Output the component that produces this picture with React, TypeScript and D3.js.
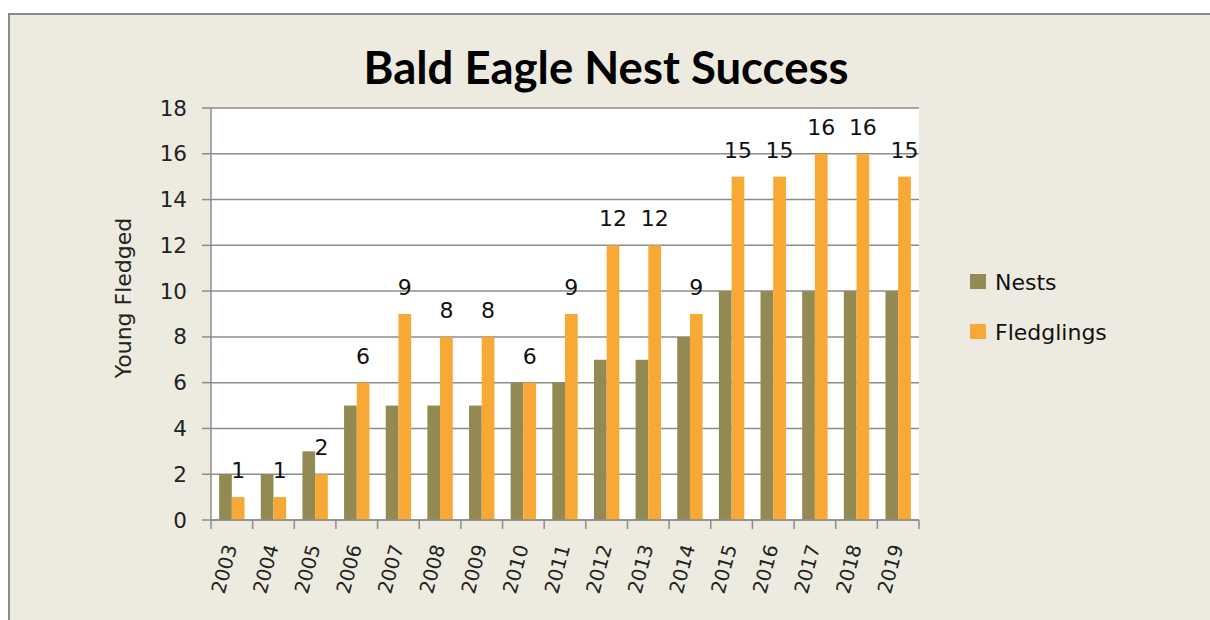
import React from "react";
import * as d3 from "d3";

const years = ["2003","2004","2005","2006","2007","2008","2009","2010","2011","2012","2013","2014","2015","2016","2017","2018","2019"];
const nests = [2,2,3,5,5,5,5,6,6,7,7,8,10,10,10,10,10];
const fledglings = [1,1,2,6,9,8,8,6,9,12,12,9,15,15,16,16,15];
const yTicks = [0,2,4,6,8,10,12,14,16,18];
const seriesNames = ["Nests","Fledglings"];
const colors = ["#938a53","#f8a834"];

const W = 1210, H = 620;
const plot = { left: 211, right: 919, top: 108, bottom: 520 };
const font = "'DejaVu Sans', Verdana, sans-serif";

export default function App() {
  const x = d3.scaleBand<string>().domain(years).range([plot.left, plot.right]).padding(0);
  const y = d3.scaleLinear().domain([0, 18]).range([plot.bottom, plot.top]);
  const bw = 12.7;
  const inner = d3.scaleBand<string>().domain(seriesNames).range([0, bw * 2]);
  const off = (x.bandwidth() - bw * 2) / 2;
  const boundaries = years.map((yr) => x(yr)!).concat([plot.right]);

  return (
    <svg width={W} height={H} style={{ position: "absolute", left: 0, top: 0 }}>
      <rect x={0} y={0} width={W} height={H} fill="#ffffff" />
      <rect x={9} y={14} width={W + 10} height={H + 10} fill="#edebe0" stroke="#8a8a8a" strokeWidth={2} />
      <text x={606} y={84} textAnchor="middle" fontFamily="Lato, 'Open Sans', sans-serif" fontWeight="bold" fontSize={45.5} fill="#000">
        Bald Eagle Nest Success
      </text>
      <rect x={plot.left} y={plot.top} width={plot.right - plot.left} height={plot.bottom - plot.top} fill="#ffffff" />
      {yTicks.map((t) => (
        <g key={t}>
          <line x1={plot.left} x2={plot.right} y1={y(t)} y2={y(t)} stroke="#8c8c8c" strokeWidth={1.5} />
          <line x1={plot.left - 9} x2={plot.left} y1={y(t)} y2={y(t)} stroke="#8c8c8c" strokeWidth={1.5} />
          <text x={187} y={y(t)} textAnchor="end" dominantBaseline="central" fontFamily={font} fontSize={21.5} fill="#222">
            {t}
          </text>
        </g>
      ))}
      <line x1={plot.left} x2={plot.left} y1={plot.top} y2={plot.bottom} stroke="#8c8c8c" strokeWidth={1.5} />
      {boundaries.map((b, i) => (
        <line key={i} x1={b} x2={b} y1={plot.bottom} y2={plot.bottom + 9} stroke="#8c8c8c" strokeWidth={1.5} />
      ))}
      {years.map((yr, i) => {
        const x0 = x(yr)! + off;
        const xn = x0 + inner("Nests")!;
        const xf = x0 + inner("Fledglings")!;
        return (
          <g key={yr}>
            <rect x={xn} y={y(nests[i])} width={bw} height={plot.bottom - y(nests[i])} fill={colors[0]} />
            <rect x={xf} y={y(fledglings[i])} width={bw} height={plot.bottom - y(fledglings[i])} fill={colors[1]} />
            <text x={xf + bw / 2} y={y(fledglings[i]) - 19} textAnchor="middle" fontFamily={font} fontSize={22} fill="#111">
              {fledglings[i]}
            </text>
          </g>
        );
      })}
      <line x1={plot.left} x2={plot.right} y1={plot.bottom} y2={plot.bottom} stroke="#8c8c8c" strokeWidth={1.5} />
      {years.map((yr) => {
        const cx = x(yr)! + x.bandwidth() / 2 - 1;
        const cy = 545;
        return (
          <text key={yr} x={cx} y={cy} transform={`rotate(-75, ${cx}, ${cy})`} textAnchor="end" dominantBaseline="central" fontFamily={font} fontSize={19.5} fill="#222">
            {yr}
          </text>
        );
      })}
      <text x={123} y={298} transform="rotate(-90, 123, 298)" textAnchor="middle" dominantBaseline="central" fontFamily={font} fontSize={22} fill="#222">
        Young Fledged
      </text>
      {seriesNames.map((s, i) => (
        <g key={s}>
          <rect x={970} y={274 + i * 50} width={16} height={15} fill={colors[i]} />
          <text x={995} y={282 + i * 50} dominantBaseline="central" fontFamily={font} fontSize={22} fill="#111">
            {s}
          </text>
        </g>
      ))}
    </svg>
  );
}
